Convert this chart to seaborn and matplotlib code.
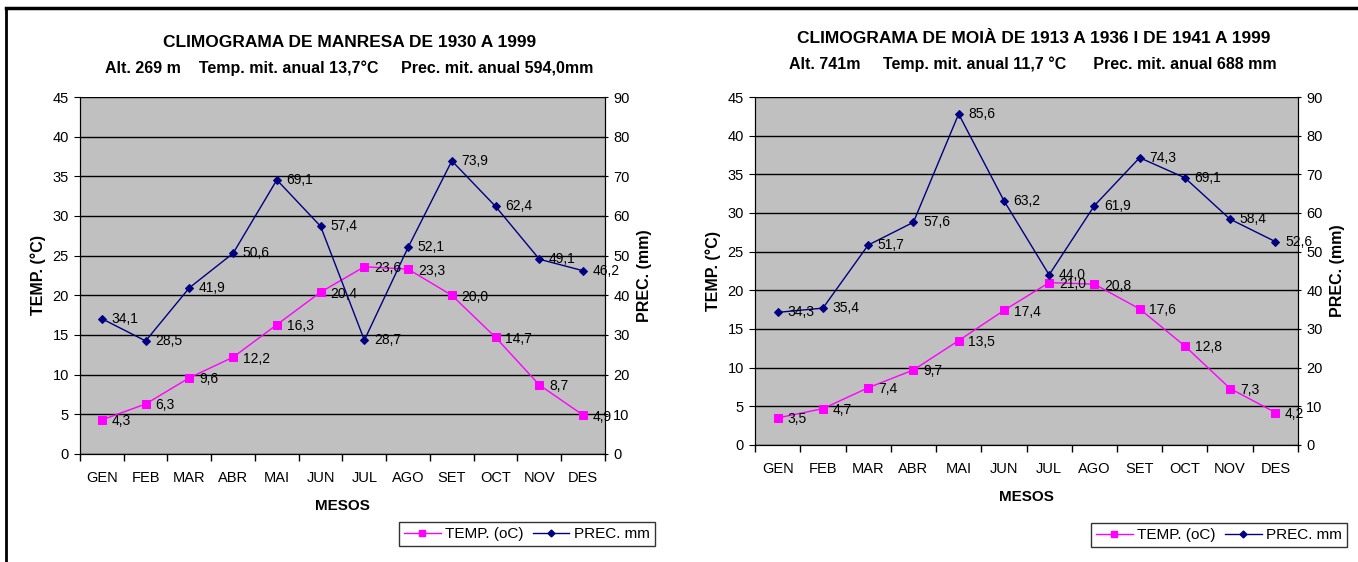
import numpy as np
import pandas as pd
import seaborn as sns
import matplotlib.pyplot as plt
from matplotlib.lines import Line2D

plt.rcParams['font.family'] = ['Liberation Sans', 'DejaVu Sans']

months = ['GEN', 'FEB', 'MAR', 'ABR', 'MAI', 'JUN', 'JUL', 'AGO', 'SET', 'OCT', 'NOV', 'DES']

manresa_temp = [4.3, 6.3, 9.6, 12.2, 16.3, 20.4, 23.6, 23.3, 20.0, 14.7, 8.7, 4.9]
manresa_prec = [34.1, 28.5, 41.9, 50.6, 69.1, 57.4, 28.7, 52.1, 73.9, 62.4, 49.1, 46.2]

moia_temp = [3.5, 4.7, 7.4, 9.7, 13.5, 17.4, 21.0, 20.8, 17.6, 12.8, 7.3, 4.2]
moia_prec = [34.3, 35.4, 51.7, 57.6, 85.6, 63.2, 44.0, 61.9, 74.3, 69.1, 58.4, 52.6]

TEMP_C = '#FF00FF'
PREC_C = '#000080'
BG = '#C0C0C0'


def fmt(v):
    return f"{v:.1f}".replace('.', ',')


def climogram(fig, rect, temp, prec, title, subtitle, title_y, legend_xy):
    ax = fig.add_axes(rect)
    ax.set_facecolor(BG)
    df = pd.DataFrame({'mes': months, 'temp': temp, 'prec': prec})
    x = np.arange(len(months))

    sns.lineplot(x=x, y=df['temp'], ax=ax, color=TEMP_C, marker='s', markersize=6,
                 markeredgecolor=TEMP_C, linewidth=1)
    ax.set_ylim(0, 45)
    ax.set_yticks(np.arange(0, 46, 5))
    ax.grid(axis='y', color='black', linewidth=1)
    ax.set_axisbelow(True)
    ax.set_xlim(-0.5, len(months) - 0.5)
    ax.set_xticks(x)
    ax.set_xticklabels(months)
    ax.set_xticks(np.arange(-0.5, len(months)), minor=True)
    ax.tick_params(axis='x', which='major', length=0, pad=12, labelsize=10.5)
    ax.tick_params(axis='x', which='minor', length=5, direction='out', width=1)
    ax.tick_params(axis='y', length=4, labelsize=10.5, pad=4)
    ax.set_xlabel('MESOS', fontweight='bold', fontsize=11, labelpad=10)
    ax.set_ylabel('TEMP. (°C)', fontweight='bold', fontsize=11.5, labelpad=5)
    ax.spines['top'].set_visible(False)

    ax2 = ax.twinx()
    sns.lineplot(x=x, y=df['prec'], ax=ax2, color=PREC_C, marker='D', markersize=4.5,
                 markeredgecolor=PREC_C, linewidth=1)
    ax2.set_ylim(0, 90)
    ax2.set_yticks(np.arange(0, 91, 10))
    ax2.tick_params(axis='y', length=4, direction='inout', labelsize=10.5, pad=4)
    ax2.set_ylabel('PREC. (mm)', fontweight='bold', fontsize=11.5, labelpad=5)
    ax2.spines['top'].set_visible(False)

    for i, v in enumerate(temp):
        ax.annotate(fmt(v), (x[i], v), xytext=(7, -1), textcoords='offset points',
                    ha='left', va='center', fontsize=10)
    for i, v in enumerate(prec):
        ax2.annotate(fmt(v), (x[i], v), xytext=(7, 0), textcoords='offset points',
                     ha='left', va='center', fontsize=10)

    cx = rect[0] + rect[2] / 2
    fig.text(cx + 0.005, title_y, title, ha='center', va='center', fontweight='bold', fontsize=12.5)
    fig.text(cx + 0.005, title_y - 0.047, subtitle, ha='center', va='center', fontweight='bold', fontsize=11.5)

    handles = [Line2D([], [], color=TEMP_C, marker='s', markersize=5, linewidth=1),
               Line2D([], [], color=PREC_C, marker='D', markersize=3.5, linewidth=1)]
    fig.legend(handles, ['TEMP. (oC)', 'PREC. mm'], loc='center', bbox_to_anchor=legend_xy,
               ncol=2, frameon=True, fancybox=False, edgecolor='black', fontsize=11,
               handlelength=2.4, handletextpad=0.3, columnspacing=0.6, borderpad=0.35,
               borderaxespad=0)
    return ax, ax2


fig = plt.figure(figsize=(13.58, 5.62), dpi=100)

climogram(fig, [0.0589, 0.1922, 0.3866, 0.6352], manresa_temp, manresa_prec,
          'CLIMOGRAMA DE MANRESA DE 1930 A 1999',
          'Alt. 269 m    Temp. mit. anual 13,7°C     Prec. mit. anual 594,0mm',
          0.925, (0.388, 0.05))
climogram(fig, [0.556, 0.2082, 0.3998, 0.6192], moia_temp, moia_prec,
          'CLIMOGRAMA DE MOIÀ DE 1913 A 1936 I DE 1941 A 1999',
          'Alt. 741m     Temp. mit. anual 11,7 °C      Prec. mit. anual 688 mm',
          0.932, (0.8976, 0.048))

# outer frame lines (top and left)
fig.add_artist(Line2D([0.0045, 1.0], [0.986, 0.986], color='black', linewidth=2.5,
                      transform=fig.transFigure))
fig.add_artist(Line2D([0.0045, 0.0045], [0.0, 0.986], color='black', linewidth=2,
                      transform=fig.transFigure))

fig.savefig('out.png', dpi=100)
